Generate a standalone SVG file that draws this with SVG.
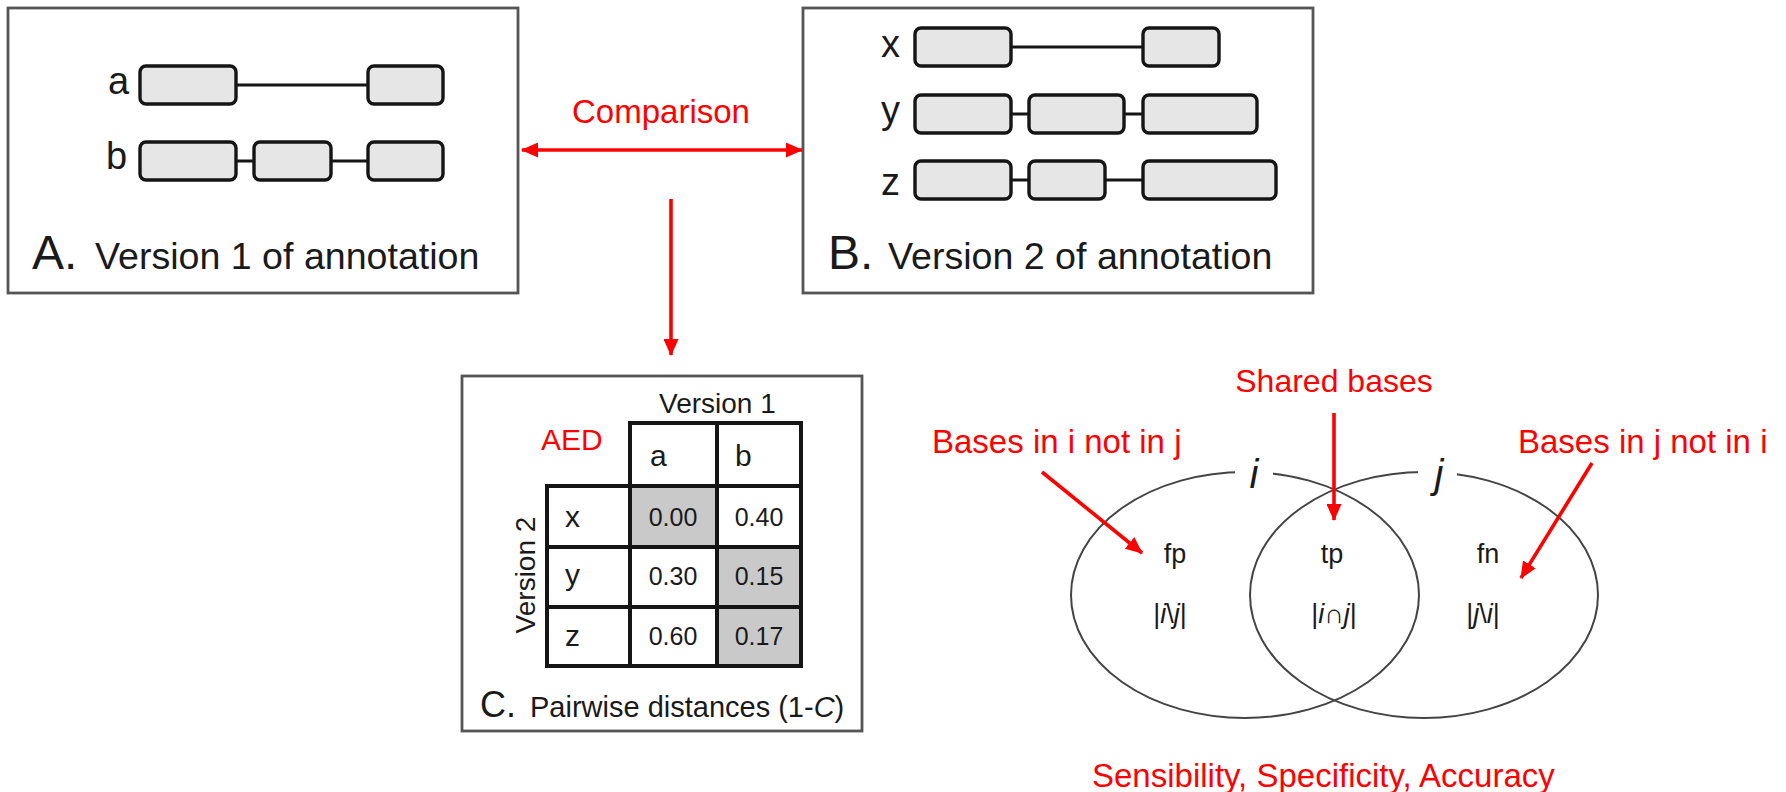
<svg xmlns="http://www.w3.org/2000/svg" width="1786" height="792" viewBox="0 0 1786 792">
<style>
.panel{fill:#fff;stroke:#555;stroke-width:2.8}
.exon{fill:#e6e6e6;stroke:#151515;stroke-width:3.4}
.intron{stroke:#151515;stroke-width:3.2;fill:none}
.t{font-family:"Liberation Sans",Arial,sans-serif;fill:#1a1a1a}
.red{font-family:"Liberation Sans",Arial,sans-serif;fill:#ff0000}
.cell{fill:#fff;stroke:#151515;stroke-width:4}
.shade{fill:#c9c9c9;stroke:#151515;stroke-width:4}
.venn{fill:none;stroke:#444;stroke-width:2}
.arrow{stroke:#ff0000;stroke-width:3.6;fill:none}
</style>
<defs>
<marker id="ah" viewBox="0 0 17 15" refX="16" refY="7.5" markerUnits="userSpaceOnUse" markerWidth="17" markerHeight="15" orient="auto-start-reverse">
<path d="M0,0 L17,7.5 L0,15 z" fill="#ff0000"/>
</marker>
</defs>

<g id="panelA">
<rect class="panel" x="8" y="8" width="510" height="285"/>
<text class="t" x="108" y="94" font-size="38">a</text>
<line class="intron" x1="236" y1="85" x2="368" y2="85"/>
<rect class="exon" x="140" y="66" width="96" height="38" rx="6"/>
<rect class="exon" x="368" y="66" width="75" height="38" rx="6"/>
<text class="t" x="106" y="169" font-size="38">b</text>
<line class="intron" x1="236" y1="161" x2="368" y2="161"/>
<rect class="exon" x="140" y="142" width="96" height="38" rx="6"/>
<rect class="exon" x="254" y="142" width="77" height="38" rx="6"/>
<rect class="exon" x="368" y="142" width="75" height="38" rx="6"/>
<text class="t" x="32" y="269" font-size="48">A.</text>
<text class="t" x="95" y="269" font-size="37.6">Version 1 of annotation</text>
</g>

<g id="panelB">
<rect class="panel" x="803" y="8" width="510" height="285"/>
<text class="t" x="881" y="57" font-size="38">x</text>
<line class="intron" x1="1011" y1="47" x2="1143" y2="47"/>
<rect class="exon" x="915" y="28" width="96" height="38" rx="6"/>
<rect class="exon" x="1143" y="28" width="76" height="38" rx="6"/>
<text class="t" x="881" y="123" font-size="38">y</text>
<line class="intron" x1="1011" y1="114" x2="1143" y2="114"/>
<rect class="exon" x="915" y="95" width="96" height="38" rx="6"/>
<rect class="exon" x="1029" y="95" width="95" height="38" rx="6"/>
<rect class="exon" x="1143" y="95" width="114" height="38" rx="6"/>
<text class="t" x="881" y="195" font-size="38">z</text>
<line class="intron" x1="1011" y1="180" x2="1143" y2="180"/>
<rect class="exon" x="915" y="161" width="96" height="38" rx="6"/>
<rect class="exon" x="1029" y="161" width="76" height="38" rx="6"/>
<rect class="exon" x="1143" y="161" width="133" height="38" rx="6"/>
<text class="t" x="828" y="269" font-size="48">B.</text>
<text class="t" x="888" y="269" font-size="37.6">Version 2 of annotation</text>
</g>

<g id="panelC">
<rect class="panel" x="462" y="376" width="400" height="355"/>
<text class="t" x="659" y="413" font-size="28">Version 1</text>
<text class="t" font-size="28" text-anchor="middle" transform="translate(535,575) rotate(-90)">Version 2</text>
<text class="red" x="541" y="450" font-size="30">AED</text>
<rect class="cell" x="630" y="423" width="87" height="63"/>
<rect class="cell" x="717" y="423" width="84" height="63"/>
<rect class="cell" x="547" y="486" width="83" height="61"/>
<rect class="shade" x="630" y="486" width="87" height="61"/>
<rect class="cell" x="717" y="486" width="84" height="61"/>
<rect class="cell" x="547" y="547" width="83" height="60"/>
<rect class="cell" x="630" y="547" width="87" height="60"/>
<rect class="shade" x="717" y="547" width="84" height="60"/>
<rect class="cell" x="547" y="607" width="83" height="59"/>
<rect class="cell" x="630" y="607" width="87" height="59"/>
<rect class="shade" x="717" y="607" width="84" height="59"/>
<text class="t" x="650" y="466" font-size="30">a</text>
<text class="t" x="735" y="466" font-size="30">b</text>
<text class="t" x="565" y="527" font-size="30">x</text>
<text class="t" x="565" y="585" font-size="30">y</text>
<text class="t" x="565" y="646" font-size="30">z</text>
<g class="t" font-size="25" text-anchor="middle">
<text x="673" y="526">0.00</text>
<text x="759" y="526">0.40</text>
<text x="673" y="585">0.30</text>
<text x="759" y="585">0.15</text>
<text x="673" y="645">0.60</text>
<text x="759" y="645">0.17</text>
</g>
<text class="t" x="480" y="717" font-size="36">C.</text>
<text class="t" x="530" y="717" font-size="29">Pairwise distances (1-<tspan font-style="italic">C</tspan>)</text>
</g>

<g id="venn">
<ellipse class="venn" cx="1245" cy="595" rx="174" ry="123"/>
<ellipse class="venn" cx="1424" cy="595" rx="174" ry="123"/>
<rect x="1235" y="456" width="38" height="32" fill="#fff"/>
<rect x="1418" y="456" width="39" height="32" fill="#fff"/>
<text class="t" x="1254" y="488" font-size="40" font-style="italic" text-anchor="middle">i</text>
<text class="t" x="1439" y="488" font-size="40" font-style="italic" text-anchor="middle">j</text>
<g class="t" font-size="27" text-anchor="middle">
<text x="1175" y="563">fp</text>
<text x="1332" y="563">tp</text>
<text x="1488" y="563">fn</text>
<text x="1170" y="623">|<tspan font-style="italic">i</tspan>\<tspan font-style="italic">j</tspan>|</text>
<text x="1334" y="623">|<tspan font-style="italic">i</tspan>∩<tspan font-style="italic">j</tspan>|</text>
<text x="1483" y="623">|<tspan font-style="italic">j</tspan>\<tspan font-style="italic">i</tspan>|</text>
</g>
</g>

<g id="labels">
<text class="red" x="661" y="123" font-size="33" text-anchor="middle">Comparison</text>
<text class="red" x="1334" y="392" font-size="32" text-anchor="middle">Shared bases</text>
<text class="red" x="932" y="453" font-size="33">Bases in i not in j</text>
<text class="red" x="1518" y="453" font-size="33">Bases in j not in i</text>
<text class="red" x="1092" y="787" font-size="33">Sensibility, Specificity, Accuracy</text>
</g>

<g id="connectors">
<line class="arrow" x1="522" y1="150" x2="802" y2="150" marker-start="url(#ah)" marker-end="url(#ah)"/>
<line class="arrow" x1="671" y1="199" x2="671" y2="355" marker-end="url(#ah)"/>
<line class="arrow" x1="1334" y1="413" x2="1334" y2="520" marker-end="url(#ah)"/>
<line class="arrow" x1="1042" y1="472" x2="1142" y2="553" marker-end="url(#ah)"/>
<line class="arrow" x1="1592" y1="463" x2="1521" y2="578" marker-end="url(#ah)"/>
</g>
</svg>
